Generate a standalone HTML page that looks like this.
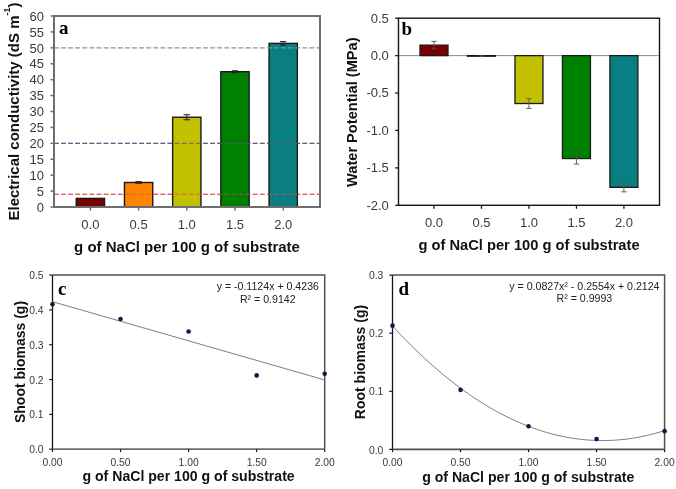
<!DOCTYPE html>
<html><head><meta charset="utf-8"><style>
html,body{margin:0;padding:0;background:#fff;width:676px;height:489px;overflow:hidden}
svg{display:block;will-change:transform}
text{font-family:"Liberation Sans", sans-serif}
</style></head><body>
<svg width="676" height="489" viewBox="0 0 676 489">
<rect width="676" height="489" fill="#fff"/>
<rect x="54" y="16" width="266" height="191" fill="#fff" stroke="none"/>
<line x1="54" x2="320" y1="47.83" y2="47.83" stroke="#a0a0a0" stroke-width="1" stroke-dasharray="4.7 2.4"/>
<line x1="54" x2="320" y1="143.33" y2="143.33" stroke="#5a5a80" stroke-width="1" stroke-dasharray="4.7 2.4"/>
<line x1="54" x2="320" y1="194.27" y2="194.27" stroke="#d85050" stroke-width="1" stroke-dasharray="4.7 2.4"/>
<rect x="76.25" y="198.41" width="28.3" height="8.59" fill="#7d0000" stroke="#1a1a1a" stroke-width="1.4"/>
<rect x="124.45" y="182.49" width="28.3" height="24.51" fill="#ff8400" stroke="#1a1a1a" stroke-width="1.4"/>
<rect x="172.65" y="117.23" width="28.3" height="89.77" fill="#c2c000" stroke="#1a1a1a" stroke-width="1.4"/>
<rect x="220.85" y="71.71" width="28.3" height="135.29" fill="#008000" stroke="#1a1a1a" stroke-width="1.4"/>
<rect x="269.05" y="43.38" width="28.3" height="163.62" fill="#0a7f82" stroke="#1a1a1a" stroke-width="1.4"/>
<path d="M135.40 181.69H141.80M138.60 181.69V183.28M135.40 183.28H141.80" stroke="#222" stroke-width="1" fill="none"/>
<path d="M183.60 114.68H190.00M186.80 114.68V119.78M183.60 119.78H190.00" stroke="#222" stroke-width="1" fill="none"/>
<path d="M231.80 70.75H238.20M235.00 70.75V72.66M231.80 72.66H238.20" stroke="#222" stroke-width="1" fill="none"/>
<path d="M280.00 41.56H286.40M283.20 41.56V45.19M280.00 45.19H286.40" stroke="#222" stroke-width="1" fill="none"/>
<line x1="54" x2="320" y1="47.83" y2="47.83" stroke="#a0a0a0" stroke-width="1.1" stroke-dasharray="4.7 2.4" opacity="0.75"/>
<line x1="54" x2="320" y1="143.33" y2="143.33" stroke="#5a5a80" stroke-width="1.1" stroke-dasharray="4.7 2.4" opacity="0.75"/>
<line x1="54" x2="320" y1="194.27" y2="194.27" stroke="#d85050" stroke-width="1.1" stroke-dasharray="4.7 2.4" opacity="0.75"/>
<rect x="54" y="16" width="266" height="191" fill="none" stroke="#6e6e6e" stroke-width="2"/>
<line x1="50.5" x2="54" y1="207.00" y2="207.00" stroke="#6e6e6e" stroke-width="1.5"/>
<text x="44" y="211.70" text-anchor="end" font-size="13" fill="#3a3a3a">0</text>
<line x1="50.5" x2="54" y1="191.08" y2="191.08" stroke="#6e6e6e" stroke-width="1.5"/>
<text x="44" y="195.78" text-anchor="end" font-size="13" fill="#3a3a3a">5</text>
<line x1="50.5" x2="54" y1="175.17" y2="175.17" stroke="#6e6e6e" stroke-width="1.5"/>
<text x="44" y="179.87" text-anchor="end" font-size="13" fill="#3a3a3a">10</text>
<line x1="50.5" x2="54" y1="159.25" y2="159.25" stroke="#6e6e6e" stroke-width="1.5"/>
<text x="44" y="163.95" text-anchor="end" font-size="13" fill="#3a3a3a">15</text>
<line x1="50.5" x2="54" y1="143.33" y2="143.33" stroke="#6e6e6e" stroke-width="1.5"/>
<text x="44" y="148.03" text-anchor="end" font-size="13" fill="#3a3a3a">20</text>
<line x1="50.5" x2="54" y1="127.42" y2="127.42" stroke="#6e6e6e" stroke-width="1.5"/>
<text x="44" y="132.12" text-anchor="end" font-size="13" fill="#3a3a3a">25</text>
<line x1="50.5" x2="54" y1="111.50" y2="111.50" stroke="#6e6e6e" stroke-width="1.5"/>
<text x="44" y="116.20" text-anchor="end" font-size="13" fill="#3a3a3a">30</text>
<line x1="50.5" x2="54" y1="95.58" y2="95.58" stroke="#6e6e6e" stroke-width="1.5"/>
<text x="44" y="100.28" text-anchor="end" font-size="13" fill="#3a3a3a">35</text>
<line x1="50.5" x2="54" y1="79.67" y2="79.67" stroke="#6e6e6e" stroke-width="1.5"/>
<text x="44" y="84.37" text-anchor="end" font-size="13" fill="#3a3a3a">40</text>
<line x1="50.5" x2="54" y1="63.75" y2="63.75" stroke="#6e6e6e" stroke-width="1.5"/>
<text x="44" y="68.45" text-anchor="end" font-size="13" fill="#3a3a3a">45</text>
<line x1="50.5" x2="54" y1="47.83" y2="47.83" stroke="#6e6e6e" stroke-width="1.5"/>
<text x="44" y="52.53" text-anchor="end" font-size="13" fill="#3a3a3a">50</text>
<line x1="50.5" x2="54" y1="31.92" y2="31.92" stroke="#6e6e6e" stroke-width="1.5"/>
<text x="44" y="36.62" text-anchor="end" font-size="13" fill="#3a3a3a">55</text>
<line x1="50.5" x2="54" y1="16.00" y2="16.00" stroke="#6e6e6e" stroke-width="1.5"/>
<text x="44" y="20.70" text-anchor="end" font-size="13" fill="#3a3a3a">60</text>
<line x1="90.40" x2="90.40" y1="207" y2="210.5" stroke="#6e6e6e" stroke-width="1.5"/>
<text x="90.40" y="228.6" text-anchor="middle" font-size="13" fill="#3a3a3a">0.0</text>
<line x1="138.60" x2="138.60" y1="207" y2="210.5" stroke="#6e6e6e" stroke-width="1.5"/>
<text x="138.60" y="228.6" text-anchor="middle" font-size="13" fill="#3a3a3a">0.5</text>
<line x1="186.80" x2="186.80" y1="207" y2="210.5" stroke="#6e6e6e" stroke-width="1.5"/>
<text x="186.80" y="228.6" text-anchor="middle" font-size="13" fill="#3a3a3a">1.0</text>
<line x1="235.00" x2="235.00" y1="207" y2="210.5" stroke="#6e6e6e" stroke-width="1.5"/>
<text x="235.00" y="228.6" text-anchor="middle" font-size="13" fill="#3a3a3a">1.5</text>
<line x1="283.20" x2="283.20" y1="207" y2="210.5" stroke="#6e6e6e" stroke-width="1.5"/>
<text x="283.20" y="228.6" text-anchor="middle" font-size="13" fill="#3a3a3a">2.0</text>
<text x="187" y="251.5" text-anchor="middle" font-size="15" font-weight="bold" fill="#111">g of NaCl per 100 g of substrate</text>
<text transform="translate(18.8 111.5) rotate(-90)" text-anchor="middle" font-size="15" font-weight="bold" fill="#111">Electrical conductivity (dS m<tspan font-size="9" dy="-8.5">-1</tspan><tspan dy="8.5">)</tspan></text>
<text x="59" y="34" style='font-family:"Liberation Serif", serif' font-size="19" font-weight="bold" fill="#000">a</text>
<line x1="398.5" x2="659.5" y1="55.62" y2="55.62" stroke="#8a8a8a" stroke-width="1"/>
<rect x="420.00" y="45.14" width="28" height="10.48" fill="#7d0000" stroke="#1a1a1a" stroke-width="1.3"/>
<rect x="467.48" y="55.62" width="28" height="0.60" fill="#ff8400" stroke="#1a1a1a" stroke-width="1.3"/>
<rect x="514.96" y="55.62" width="28" height="47.90" fill="#c2c000" stroke="#1a1a1a" stroke-width="1.3"/>
<rect x="562.44" y="55.62" width="28" height="102.91" fill="#008000" stroke="#1a1a1a" stroke-width="1.3"/>
<rect x="609.92" y="55.62" width="28" height="131.72" fill="#0a7f82" stroke="#1a1a1a" stroke-width="1.3"/>
<path d="M431.30 41.40H436.70M434.00 41.40V48.88M431.30 48.88H436.70" stroke="#555" stroke-width="0.9" fill="none"/>
<path d="M478.78 55.84H484.18M481.48 55.84V56.59M478.78 56.59H484.18" stroke="#555" stroke-width="0.9" fill="none"/>
<path d="M526.26 98.65H531.66M528.96 98.65V108.38M526.26 108.38H531.66" stroke="#555" stroke-width="0.9" fill="none"/>
<path d="M573.74 152.91H579.14M576.44 152.91V164.14M573.74 164.14H579.14" stroke="#555" stroke-width="0.9" fill="none"/>
<path d="M621.22 182.85H626.62M623.92 182.85V191.83M621.22 191.83H626.62" stroke="#555" stroke-width="0.9" fill="none"/>
<rect x="398.5" y="18.2" width="261.00" height="187.10" fill="none" stroke="#151515" stroke-width="1.4"/>
<line x1="395.2" x2="398.5" y1="18.20" y2="18.20" stroke="#151515" stroke-width="1.3"/>
<text x="388.8" y="22.50" text-anchor="end" font-size="13" fill="#3a3a3a">0.5</text>
<line x1="395.2" x2="398.5" y1="55.62" y2="55.62" stroke="#151515" stroke-width="1.3"/>
<text x="388.8" y="59.92" text-anchor="end" font-size="13" fill="#3a3a3a">0.0</text>
<line x1="395.2" x2="398.5" y1="93.04" y2="93.04" stroke="#151515" stroke-width="1.3"/>
<text x="388.8" y="97.34" text-anchor="end" font-size="13" fill="#3a3a3a">-0.5</text>
<line x1="395.2" x2="398.5" y1="130.46" y2="130.46" stroke="#151515" stroke-width="1.3"/>
<text x="388.8" y="134.76" text-anchor="end" font-size="13" fill="#3a3a3a">-1.0</text>
<line x1="395.2" x2="398.5" y1="167.88" y2="167.88" stroke="#151515" stroke-width="1.3"/>
<text x="388.8" y="172.18" text-anchor="end" font-size="13" fill="#3a3a3a">-1.5</text>
<line x1="395.2" x2="398.5" y1="205.30" y2="205.30" stroke="#151515" stroke-width="1.3"/>
<text x="388.8" y="209.60" text-anchor="end" font-size="13" fill="#3a3a3a">-2.0</text>
<line x1="434.00" x2="434.00" y1="205.3" y2="208.8" stroke="#151515" stroke-width="1.3"/>
<text x="434.00" y="227" text-anchor="middle" font-size="13" fill="#3a3a3a">0.0</text>
<line x1="481.48" x2="481.48" y1="205.3" y2="208.8" stroke="#151515" stroke-width="1.3"/>
<text x="481.48" y="227" text-anchor="middle" font-size="13" fill="#3a3a3a">0.5</text>
<line x1="528.96" x2="528.96" y1="205.3" y2="208.8" stroke="#151515" stroke-width="1.3"/>
<text x="528.96" y="227" text-anchor="middle" font-size="13" fill="#3a3a3a">1.0</text>
<line x1="576.44" x2="576.44" y1="205.3" y2="208.8" stroke="#151515" stroke-width="1.3"/>
<text x="576.44" y="227" text-anchor="middle" font-size="13" fill="#3a3a3a">1.5</text>
<line x1="623.92" x2="623.92" y1="205.3" y2="208.8" stroke="#151515" stroke-width="1.3"/>
<text x="623.92" y="227" text-anchor="middle" font-size="13" fill="#3a3a3a">2.0</text>
<text x="529" y="249.5" text-anchor="middle" font-size="14.7" font-weight="bold" fill="#111">g of NaCl per 100 g of substrate</text>
<text transform="translate(356.9 112.2) rotate(-90)" text-anchor="middle" font-size="14.6" font-weight="bold" fill="#111">Water Potential (MPa)</text>
<text x="401.5" y="34.8" style='font-family:"Liberation Serif", serif' font-size="19" font-weight="bold" fill="#000">b</text>
<path d="M52.5 275.1H324.7V449.2" fill="none" stroke="#505050" stroke-width="1.5"/>
<line x1="52.5" x2="52.5" y1="275.1" y2="449.2" stroke="#151515" stroke-width="1.3"/>
<line x1="52.5" x2="324.7" y1="449.2" y2="449.2" stroke="#6e6e6e" stroke-width="1.8"/>
<line x1="49.2" x2="52.5" y1="449.20" y2="449.20" stroke="#1a1a1a" stroke-width="1.2"/>
<text x="43.5" y="453.20" text-anchor="end" font-size="10.3" fill="#3a3a3a">0.0</text>
<line x1="49.2" x2="52.5" y1="414.38" y2="414.38" stroke="#1a1a1a" stroke-width="1.2"/>
<text x="43.5" y="418.38" text-anchor="end" font-size="10.3" fill="#3a3a3a">0.1</text>
<line x1="49.2" x2="52.5" y1="379.56" y2="379.56" stroke="#1a1a1a" stroke-width="1.2"/>
<text x="43.5" y="383.56" text-anchor="end" font-size="10.3" fill="#3a3a3a">0.2</text>
<line x1="49.2" x2="52.5" y1="344.74" y2="344.74" stroke="#1a1a1a" stroke-width="1.2"/>
<text x="43.5" y="348.74" text-anchor="end" font-size="10.3" fill="#3a3a3a">0.3</text>
<line x1="49.2" x2="52.5" y1="309.92" y2="309.92" stroke="#1a1a1a" stroke-width="1.2"/>
<text x="43.5" y="313.92" text-anchor="end" font-size="10.3" fill="#3a3a3a">0.4</text>
<line x1="49.2" x2="52.5" y1="275.10" y2="275.10" stroke="#1a1a1a" stroke-width="1.2"/>
<text x="43.5" y="279.10" text-anchor="end" font-size="10.3" fill="#3a3a3a">0.5</text>
<line x1="52.50" x2="52.50" y1="449.2" y2="452.0" stroke="#1a1a1a" stroke-width="1.2"/>
<text x="52.50" y="465.8" text-anchor="middle" font-size="10.3" fill="#3a3a3a">0.00</text>
<line x1="120.55" x2="120.55" y1="449.2" y2="452.0" stroke="#1a1a1a" stroke-width="1.2"/>
<text x="120.55" y="465.8" text-anchor="middle" font-size="10.3" fill="#3a3a3a">0.50</text>
<line x1="188.60" x2="188.60" y1="449.2" y2="452.0" stroke="#1a1a1a" stroke-width="1.2"/>
<text x="188.60" y="465.8" text-anchor="middle" font-size="10.3" fill="#3a3a3a">1.00</text>
<line x1="256.65" x2="256.65" y1="449.2" y2="452.0" stroke="#1a1a1a" stroke-width="1.2"/>
<text x="256.65" y="465.8" text-anchor="middle" font-size="10.3" fill="#3a3a3a">1.50</text>
<line x1="324.70" x2="324.70" y1="449.2" y2="452.0" stroke="#1a1a1a" stroke-width="1.2"/>
<text x="324.70" y="465.8" text-anchor="middle" font-size="10.3" fill="#3a3a3a">2.00</text>
<line x1="52.50" y1="301.70" x2="324.70" y2="379.98" stroke="#707070" stroke-width="0.9"/>
<circle cx="52.50" cy="304.35" r="2.3" fill="#0d1b4b"/>
<circle cx="120.55" cy="318.97" r="2.3" fill="#0d1b4b"/>
<circle cx="188.60" cy="331.51" r="2.3" fill="#0d1b4b"/>
<circle cx="256.65" cy="375.38" r="2.3" fill="#0d1b4b"/>
<circle cx="324.70" cy="373.81" r="2.3" fill="#0d1b4b"/>
<text x="267.8" y="290.2" text-anchor="middle" font-size="10.6" fill="#222">y = -0.1124x + 0.4236</text>
<text x="267.8" y="302.8" text-anchor="middle" font-size="10.6" fill="#222">R² = 0.9142</text>
<text x="188.6" y="481" text-anchor="middle" font-size="14.1" font-weight="bold" fill="#111">g of NaCl per 100 g of substrate</text>
<text transform="translate(25 362) rotate(-90)" text-anchor="middle" font-size="14" font-weight="bold" fill="#111">Shoot biomass (g)</text>
<text x="58" y="295" style='font-family:"Liberation Serif", serif' font-size="19" font-weight="bold" fill="#000">c</text>
<path d="M392.5 275.1H664.6V449.4" fill="none" stroke="#505050" stroke-width="1.5"/>
<line x1="392.5" x2="392.5" y1="275.1" y2="449.4" stroke="#151515" stroke-width="1.3"/>
<line x1="392.5" x2="664.6" y1="449.4" y2="449.4" stroke="#505050" stroke-width="1.8"/>
<line x1="389.2" x2="392.5" y1="449.40" y2="449.40" stroke="#1a1a1a" stroke-width="1.2"/>
<text x="383.3" y="453.50" text-anchor="end" font-size="10.3" fill="#3a3a3a">0.0</text>
<line x1="389.2" x2="392.5" y1="391.30" y2="391.30" stroke="#1a1a1a" stroke-width="1.2"/>
<text x="383.3" y="395.40" text-anchor="end" font-size="10.3" fill="#3a3a3a">0.1</text>
<line x1="389.2" x2="392.5" y1="333.20" y2="333.20" stroke="#1a1a1a" stroke-width="1.2"/>
<text x="383.3" y="337.30" text-anchor="end" font-size="10.3" fill="#3a3a3a">0.2</text>
<line x1="389.2" x2="392.5" y1="275.10" y2="275.10" stroke="#1a1a1a" stroke-width="1.2"/>
<text x="383.3" y="279.20" text-anchor="end" font-size="10.3" fill="#3a3a3a">0.3</text>
<line x1="392.50" x2="392.50" y1="449.4" y2="452.2" stroke="#1a1a1a" stroke-width="1.2"/>
<text x="392.50" y="465.8" text-anchor="middle" font-size="10.3" fill="#3a3a3a">0.00</text>
<line x1="460.52" x2="460.52" y1="449.4" y2="452.2" stroke="#1a1a1a" stroke-width="1.2"/>
<text x="460.52" y="465.8" text-anchor="middle" font-size="10.3" fill="#3a3a3a">0.50</text>
<line x1="528.55" x2="528.55" y1="449.4" y2="452.2" stroke="#1a1a1a" stroke-width="1.2"/>
<text x="528.55" y="465.8" text-anchor="middle" font-size="10.3" fill="#3a3a3a">1.00</text>
<line x1="596.58" x2="596.58" y1="449.4" y2="452.2" stroke="#1a1a1a" stroke-width="1.2"/>
<text x="596.58" y="465.8" text-anchor="middle" font-size="10.3" fill="#3a3a3a">1.50</text>
<line x1="664.60" x2="664.60" y1="449.4" y2="452.2" stroke="#1a1a1a" stroke-width="1.2"/>
<text x="664.60" y="465.8" text-anchor="middle" font-size="10.3" fill="#3a3a3a">2.00</text>
<path d="M392.50 326.00 L397.04 330.89 L401.57 335.67 L406.11 340.35 L410.64 344.93 L415.18 349.39 L419.71 353.75 L424.25 358.00 L428.78 362.15 L433.31 366.19 L437.85 370.12 L442.38 373.94 L446.92 377.66 L451.45 381.27 L455.99 384.78 L460.52 388.18 L465.06 391.47 L469.60 394.65 L474.13 397.73 L478.67 400.70 L483.20 403.57 L487.74 406.32 L492.27 408.97 L496.81 411.52 L501.34 413.95 L505.88 416.28 L510.41 418.51 L514.95 420.62 L519.48 422.63 L524.01 424.54 L528.55 426.33 L533.09 428.02 L537.62 429.61 L542.15 431.08 L546.69 432.45 L551.23 433.71 L555.76 434.87 L560.30 435.92 L564.83 436.86 L569.37 437.70 L573.90 438.43 L578.44 439.05 L582.97 439.56 L587.50 439.97 L592.04 440.27 L596.58 440.47 L601.11 440.56 L605.64 440.54 L610.18 440.41 L614.72 440.18 L619.25 439.84 L623.79 439.39 L628.32 438.84 L632.86 438.18 L637.39 437.42 L641.92 436.54 L646.46 435.56 L651.00 434.48 L655.53 433.28 L660.07 431.98 L664.60 430.58" fill="none" stroke="#707070" stroke-width="0.9"/>
<circle cx="392.50" cy="325.65" r="2.3" fill="#0d1b4b"/>
<circle cx="460.52" cy="389.91" r="2.3" fill="#0d1b4b"/>
<circle cx="528.55" cy="426.22" r="2.3" fill="#0d1b4b"/>
<circle cx="596.58" cy="439.12" r="2.3" fill="#0d1b4b"/>
<circle cx="664.60" cy="431.16" r="2.3" fill="#0d1b4b"/>
<text x="584.4" y="289.8" text-anchor="middle" font-size="10.6" fill="#222">y = 0.0827x² - 0.2554x + 0.2124</text>
<text x="584.4" y="302.3" text-anchor="middle" font-size="10.6" fill="#222">R² = 0.9993</text>
<text x="528.3" y="481.5" text-anchor="middle" font-size="14.1" font-weight="bold" fill="#111">g of NaCl per 100 g of substrate</text>
<text transform="translate(365 362) rotate(-90)" text-anchor="middle" font-size="14" font-weight="bold" fill="#111">Root biomass (g)</text>
<text x="398.5" y="295.2" style='font-family:"Liberation Serif", serif' font-size="19" font-weight="bold" fill="#000">d</text>
</svg>
</body></html>
